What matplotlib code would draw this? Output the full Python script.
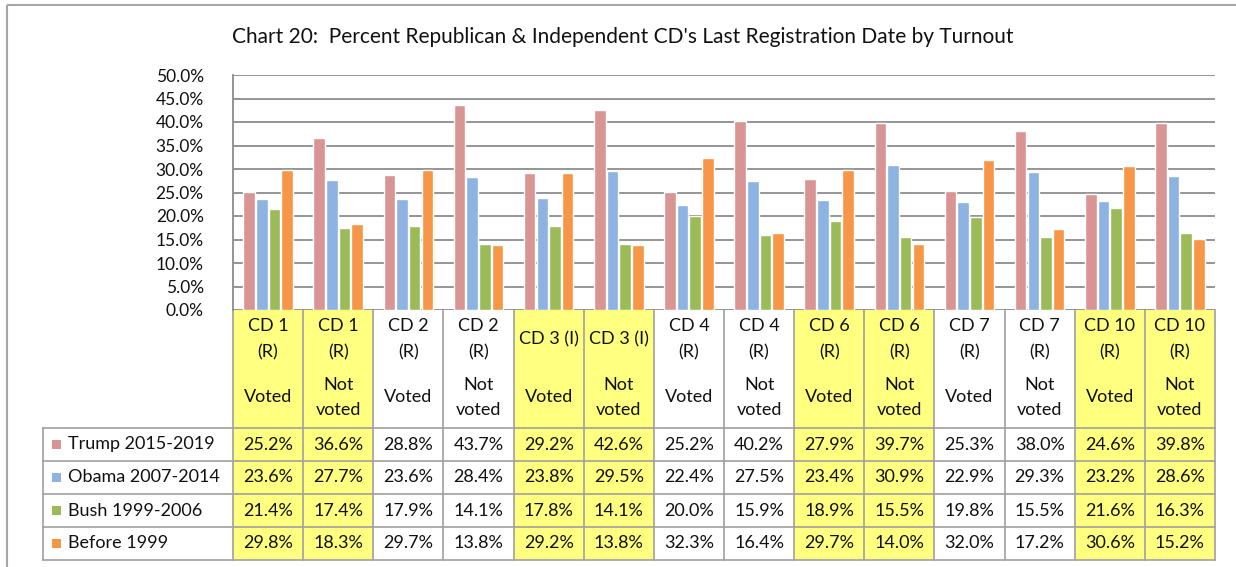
import matplotlib.pyplot as plt
from matplotlib.patches import Rectangle
from matplotlib.ticker import FuncFormatter

plt.rcParams['font.family'] = ['Lato', 'DejaVu Sans']

# Datos del gráfico
districts = ["CD 1\n(R)", "CD 1\n(R)", "CD 2\n(R)", "CD 2\n(R)", "CD 3 (I)", "CD 3 (I)",
             "CD 4\n(R)", "CD 4\n(R)", "CD 6\n(R)", "CD 6\n(R)", "CD 7\n(R)", "CD 7\n(R)",
             "CD 10\n(R)", "CD 10\n(R)"]
turnout = ["Voted", "Not\nvoted"] * 7
highlight = [True, True, False, False, True, True, False, False,
             True, True, False, False, True, True]

series_names = ["Trump 2015-2019", "Obama 2007-2014", "Bush 1999-2006", "Before 1999"]
trump = [25.2, 36.6, 28.8, 43.7, 29.2, 42.6, 25.2, 40.2, 27.9, 39.7, 25.3, 38.0, 24.6, 39.8]
obama = [23.6, 27.7, 23.6, 28.4, 23.8, 29.5, 22.4, 27.5, 23.4, 30.9, 22.9, 29.3, 23.2, 28.6]
bush = [21.4, 17.4, 17.9, 14.1, 17.8, 14.1, 20.0, 15.9, 18.9, 15.5, 19.8, 15.5, 21.6, 16.3]
before = [29.8, 18.3, 29.7, 13.8, 29.2, 13.8, 32.3, 16.4, 29.7, 14.0, 32.0, 17.2, 30.6, 15.2]
series = [trump, obama, bush, before]
colors = ["#D99594", "#8DB3E2", "#9BBB59", "#F79646"]

W, H = 1236, 567
fig = plt.figure(figsize=(W / 100, H / 100), dpi=100)

# Capa de píxeles para marco y tabla
bg = fig.add_axes([0, 0, 1, 1])
bg.set_xlim(0, W)
bg.set_ylim(H, 0)
bg.axis("off")

grid_c = "#8C8C8C"
bg.add_patch(Rectangle((7, 5), W, H, fill=False, ec="#A6A6A6", lw=1.5))

# Área del gráfico
x0, x1, ytop, ybot = 233, 1215, 75, 310
ax = fig.add_axes([x0 / W, 1 - ybot / H, (x1 - x0) / W, (ybot - ytop) / H])
n = len(trump)
ax.set_xlim(-0.5, n - 0.5)
ax.set_ylim(0, 50)
ax.set_yticks(range(0, 51, 5))
ax.yaxis.set_major_formatter(FuncFormatter(lambda v, p: f"{v:.1f}%"))
ax.tick_params(axis="y", length=0, labelsize=12.5, pad=21, labelcolor="#111111")
ax.set_xticks([])
ax.grid(axis="y", color=grid_c, lw=1.3)
ax.set_axisbelow(True)
for s in ["top", "right", "bottom"]:
    ax.spines[s].set_visible(False)
ax.spines["left"].set_color(grid_c)
ax.spines["left"].set_linewidth(1.3)

step, bw = 0.18, 0.165
for k, (vals, c) in enumerate(zip(series, colors)):
    xs = [i + (k - 1.5) * step for i in range(n)]
    ax.bar(xs, vals, width=bw, color=c, edgecolor="white", lw=1, zorder=3)

fig.text(623 / W, 1 - 37 / H, "Chart 20:  Percent Republican & Independent CD's Last Registration Date by Turnout",
         ha="center", va="center", fontsize=15, color="#111111")

# Tabla de datos
colw = (x1 - x0) / n
hdr_bot = 428
row_h = 33
rows_y = [hdr_bot + r * row_h for r in range(5)]
yellow = "#FFFF80"
tc = "#111111"
fs = 13
for i in range(n):
    cx = x0 + i * colw
    if highlight[i]:
        bg.add_patch(Rectangle((cx, ybot), colw, rows_y[-1] - ybot, color=yellow, lw=0))
    mid = cx + colw / 2
    if "\n" in districts[i]:
        a, b = districts[i].split("\n")
        bg.text(mid, 326, a, ha="center", va="center", fontsize=fs, color=tc)
        bg.text(mid, 352, b, ha="center", va="center", fontsize=fs, color=tc)
    else:
        bg.text(mid, 339, districts[i], ha="center", va="center", fontsize=fs, color=tc)
    if "\n" in turnout[i]:
        a, b = turnout[i].split("\n")
        bg.text(mid, 385, a, ha="center", va="center", fontsize=fs, color=tc)
        bg.text(mid, 410, b, ha="center", va="center", fontsize=fs, color=tc)
    else:
        bg.text(mid, 397, turnout[i], ha="center", va="center", fontsize=fs, color=tc)
    for r, vals in enumerate(series):
        bg.text(mid, rows_y[r] + row_h / 2, f"{vals[i]:.1f}%", ha="center", va="center",
                fontsize=fs, color=tc)

lc = "#A0A0A0"
for i in range(n + 1):
    cx = x0 + i * colw
    bg.plot([cx, cx], [ybot, rows_y[-1]], color=lc, lw=1.2)
for y in rows_y:
    bg.plot([43, x1], [y, y], color=lc, lw=1.2)
bg.plot([43, 43], [rows_y[0], rows_y[-1]], color=lc, lw=1.2)

for r, (name, c) in enumerate(zip(series_names, colors)):
    yc = rows_y[r] + row_h / 2
    bg.add_patch(Rectangle((52, yc - 4.5), 9, 9, color=c, lw=0))
    bg.text(68, yc, name, ha="left", va="center", fontsize=fs, color=tc)

fig.savefig("out.png", dpi=100)
